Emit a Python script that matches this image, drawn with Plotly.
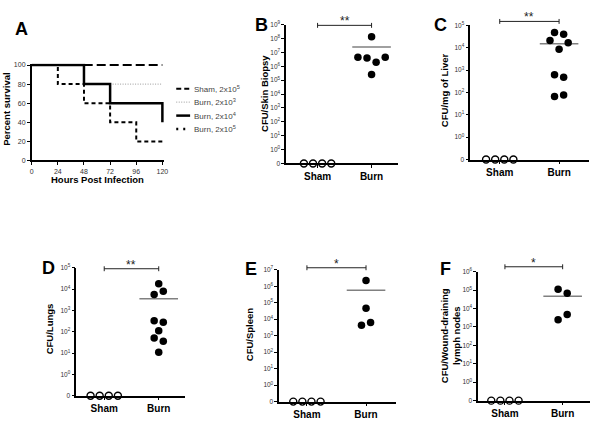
import math
import plotly.graph_objects as go

# ---------------- data ----------------
# Panel A: Kaplan-Meier survival (percent) vs hours post infection
hours_sham = [0, 120]
surv_sham = [100, 100]
hours_b3 = [0, 48, 120]
surv_b3 = [100, 80, 80]
hours_b4 = [0, 48, 72, 120]
surv_b4 = [100, 80, 60, 40]
hours_b5 = [0, 24, 48, 72, 96, 120]
surv_b5 = [100, 80, 60, 40, 20, 20]
survival_names = ["Sham, 2x10<sup>5</sup>", "Burn, 2x10<sup>3</sup>",
                  "Burn, 2x10<sup>4</sup>", "Burn, 2x10<sup>5</sup>"]
hour_ticks = [0, 24, 48, 72, 96, 120]
pct_ticks = [0, 20, 40, 60, 80, 100]

# Panels B-F: CFU counts (0 = none detected)
groups = ["Sham", "Burn"]
skin_sham = [0, 0, 0, 0]
skin_burn = [1.35e8, 4.4e6, 3.9e6, 1.95e6, 4.4e6, 2.6e5]
liver_sham = [0, 0, 0, 0]
liver_burn = [4.8e4, 4.0e4, 2.1e4, 1.66e4, 8.5e3, 620, 480, 65, 76]
lungs_sham = [0, 0, 0, 0]
lungs_burn = [1.78e4, 5.6e3, 7.9e3, 324, 275, 112, 51, 36, 11]
spleen_sham = [0, 0, 0, 0]
spleen_burn = [2.2e6, 4.6e4, 4.3e3, 6.2e3]
lymph_sham = [0, 0, 0, 0]
lymph_burn = [1.1e5, 6.8e4, 2.5e3, 4.8e3]

# ---------------- helpers ----------------
W, H = 601, 443
FONT = "Arial, Liberation Sans, sans-serif"
TXT = "#333333"


def px_x(p):
    return p / W


def px_y(p):
    return 1 - p / H


def to_plot(v):
    return math.log10(v) if v > 0 else -1.0


def swarm(yv, ypx, unit=9.2, T=6.0, r=8.5):
    """Row-based beeswarm (Prism-like). Returns x offsets in pixels."""
    n = len(yv)
    pys = [-v * ypx for v in yv]
    order = sorted(range(n), key=lambda i: pys[i])
    rows = []
    for i in order:
        if rows and pys[i] - pys[rows[-1][0]] < T:
            rows[-1].append(i)
        else:
            rows.append([i])
    offs = [0.0] * n
    placed = []
    for row in rows:
        row = sorted(row)
        k = len(row)
        spacing = 1.0
        while True:
            cand = [(j - (k - 1) / 2) * spacing * unit for j in range(k)]
            ok = all((cx - qx) ** 2 + (pys[i] - qy) ** 2 >= r * r
                     for cx, i in zip(cand, row) for qx, qy in placed)
            if ok or spacing >= 4:
                break
            spacing += 1.0
        for cx, i in zip(cand, row):
            offs[i] = cx
            placed.append((cx, pys[i]))
    return offs


fig = go.Figure()
shapes = []
annots = []

axis_common = dict(showgrid=False, zeroline=False, showline=True, linecolor="black",
                   linewidth=1.5, ticks="outside", ticklen=3, tickwidth=1,
                   tickcolor="black", fixedrange=True)

# ---------------- Panel A ----------------
A_left, A_right, A_top, A_bottom = 30, 162, 62, 159
x_ppu = (A_right - A_left) / (hour_ticks[-1] - hour_ticks[0])
y_ppu = (A_bottom - A_top) / (pct_ticks[-1] - pct_ticks[0])
xr_a = [hour_ticks[0], hour_ticks[-1] + 1.5]
yr_a = [pct_ticks[0], pct_ticks[-1] + 1.5]

fig.update_layout(
    xaxis=dict(axis_common, domain=[px_x(A_left), px_x(A_left + x_ppu * (xr_a[1] - xr_a[0]))],
               range=xr_a, anchor="y", tickvals=hour_ticks,
               tickfont=dict(family=FONT, size=7, color=TXT)),
    yaxis=dict(axis_common, domain=[px_y(A_bottom), px_y(A_bottom - y_ppu * (yr_a[1] - yr_a[0]))],
               range=yr_a, anchor="x", tickvals=pct_ticks,
               tickfont=dict(family=FONT, size=7, color=TXT)),
)

curves = [
    (hours_b3, surv_b3, dict(color="#9a9a9a", width=1, dash="1px,1.5px"), 1),
    (hours_sham, surv_sham, dict(color="black", width=2, dash="9px,4px"), 0),
    (hours_b5, surv_b5, dict(color="black", width=2, dash="4px,3px"), 3),
    (hours_b4, surv_b4, dict(color="black", width=2.5), 2),
]
for hx, sy, ln, idx in curves:
    fig.add_trace(go.Scatter(x=hx, y=sy, mode="lines", line=ln, line_shape="hv",
                             name=survival_names[idx], xaxis="x", yaxis="y",
                             showlegend=False, hoverinfo="skip"))

# manual legend
leg_styles = [
    dict(color="black", width=2, dash="5px,3px"),
    dict(color="#9a9a9a", width=1, dash="1px,1.5px"),
    dict(color="black", width=2.5),
    dict(color="black", width=2.5, dash="2px,5px"),
]
for k, (name, st) in enumerate(zip(survival_names, leg_styles)):
    yy = 86 + k * 13.7
    shapes.append(dict(type="line", xref="paper", yref="paper", x0=px_x(176), x1=px_x(190),
                       y0=px_y(yy), y1=px_y(yy), line=st))
    annots.append(dict(text=name, xref="paper", yref="paper", x=px_x(192), y=px_y(yy),
                       xanchor="left", yanchor="middle", showarrow=False,
                       font=dict(family=FONT, size=8, color="#444444")))

annots.append(dict(text="<b>Hours Post Infection</b>", xref="paper", yref="paper",
                   x=px_x(96), y=px_y(178), showarrow=False, xanchor="center", yanchor="middle",
                   font=dict(family=FONT, size=9.5, color="black")))
annots.append(dict(text="<b>Percent survival</b>", xref="paper", yref="paper",
                   x=px_x(4.5), y=px_y(107), showarrow=False, textangle=-90,
                   xanchor="center", yanchor="middle",
                   font=dict(family=FONT, size=9.5, color="black")))
annots.append(dict(text="<b>A</b>", xref="paper", yref="paper", x=px_x(19.5), y=px_y(25.5),
                   showarrow=False, xanchor="center", yanchor="middle",
                   font=dict(family=FONT, size=18, color="black")))

# ---------------- Panels B-F ----------------
panels = [
    dict(letter="B", n=2, left=287, right=400, top=21, bottom=162, c0=318.75, c1=373.3, ytop=9,
         sham=skin_sham, burn=skin_burn, title="<b>CFU/Skin Biopsy</b>", tx=265, ty=91,
         star="**", by=21.7, lx=262, ly=21),
    dict(letter="C", n=3, left=473, right=593, top=21.7, bottom=158, c0=502.75, c1=562.7, ytop=5,
         sham=liver_sham, burn=liver_burn, title="<b>CFU/mg of Liver</b>", tx=447, ty=88,
         star="**", by=17.7, lx=443, ly=21),
    dict(letter="D", n=4, left=75, right=185, top=268, bottom=398, c0=103.25, c1=158.3, ytop=5,
         sham=lungs_sham, burn=lungs_burn, title="<b>CFU/Lungs</b>", tx=48, ty=330,
         star="**", by=269, lx=47, ly=268),
    dict(letter="E", n=5, left=280, right=398, top=270, bottom=404, c0=308, c1=367.7, ytop=7,
         sham=spleen_sham, burn=spleen_burn, title="<b>CFU/Spleen</b>", tx=250, ty=336,
         star="*", by=268, lx=252, ly=269),
    dict(letter="F", n=6, left=481, right=594, top=272, bottom=403, c0=508, c1=566.3, ytop=6,
         sham=lymph_sham, burn=lymph_burn,
         title="<b>CFU/Wound-draining<br>lymph nodes</b>", tx=453, ty=337,
         star="*", by=267, lx=447.5, ly=269),
]

for p in panels:
    n = p["n"]
    s = p["c1"] - p["c0"]
    xr = [(p["left"] - p["c0"]) / s, (p["right"] - p["c0"]) / s]
    yr = [-1, p["ytop"]]
    ypx = (p["bottom"] - p["top"]) / (yr[1] - yr[0])
    tv = list(range(-1, p["ytop"] + 1))
    tt = ["0"] + [f"10<sup>{k}</sup>" for k in range(0, p["ytop"] + 1)]
    fig.layout[f"xaxis{n}"] = dict(axis_common, domain=[px_x(p["left"]), px_x(p["right"])],
                                   range=xr, anchor=f"y{n}", tickvals=[0, 1],
                                   ticktext=[f"<b>{g}</b>" for g in groups],
                                   tickfont=dict(family=FONT, size=10, color="black"))
    fig.layout[f"yaxis{n}"] = dict(axis_common, domain=[px_y(p["bottom"]), px_y(p["top"])],
                                   range=yr, anchor=f"x{n}", tickvals=tv, ticktext=tt,
                                   tickfont=dict(family=FONT, size=6.5, color=TXT))

    sham_y = [to_plot(v) for v in p["sham"]]
    burn_y = [to_plot(v) for v in p["burn"]]
    sham_off = swarm(sham_y, ypx)
    burn_off = swarm(burn_y, ypx)

    # mean line (arithmetic mean of CFU, shown on log scale)
    mean_burn = to_plot(sum(p["burn"]) / len(p["burn"]))
    w = 19.5 / s
    fig.add_trace(go.Scatter(x=[1 - w, 1 + w], y=[mean_burn, mean_burn], mode="lines",
                             line=dict(color="#808080", width=1.5), xaxis=f"x{n}",
                             yaxis=f"y{n}", showlegend=False, hoverinfo="skip"))
    fig.add_trace(go.Scatter(x=[0 + o / s for o in sham_off], y=sham_y, mode="markers",
                             marker=dict(symbol="circle-open", size=7, color="black",
                                         line=dict(width=1.4, color="black")),
                             cliponaxis=False, xaxis=f"x{n}", yaxis=f"y{n}",
                             showlegend=False, name=groups[0]))
    fig.add_trace(go.Scatter(x=[1 + o / s for o in burn_off], y=burn_y, mode="markers",
                             marker=dict(symbol="circle", size=7.5, color="black"),
                             cliponaxis=False, xaxis=f"x{n}", yaxis=f"y{n}",
                             showlegend=False, name=groups[1]))

    # significance bracket
    x0p, x1p, by = px_x(p["c0"]), px_x(p["c1"]), p["by"]
    bl = dict(color="#222222", width=1)
    shapes.append(dict(type="line", xref="paper", yref="paper", x0=x0p, x1=x1p,
                       y0=px_y(by), y1=px_y(by), line=bl))
    for xx in (x0p, x1p):
        shapes.append(dict(type="line", xref="paper", yref="paper", x0=xx, x1=xx,
                           y0=px_y(by - 2.5), y1=px_y(by + 2.5), line=bl))
    annots.append(dict(text=p["star"], xref="paper", yref="paper", x=(x0p + x1p) / 2,
                       y=px_y(by - 4), showarrow=False, xanchor="center", yanchor="middle",
                       font=dict(family=FONT, size=12, color="#222222")))
    annots.append(dict(text=p["title"], xref="paper", yref="paper", x=px_x(p["tx"]),
                       y=px_y(p["ty"]), showarrow=False, textangle=-90,
                       xanchor="center", yanchor="middle",
                       font=dict(family=FONT, size=9.5, color="black")))
    annots.append(dict(text=f"<b>{p['letter']}</b>", xref="paper", yref="paper",
                       x=px_x(p["lx"]), y=px_y(p["ly"]), showarrow=False,
                       xanchor="center", yanchor="middle",
                       font=dict(family=FONT, size=18, color="black")))

fig.update_layout(width=W, height=H, margin=dict(l=0, r=0, t=0, b=0),
                  paper_bgcolor="white", plot_bgcolor="white", showlegend=False,
                  shapes=shapes, annotations=annots,
                  font=dict(family=FONT, color="black"))

fig.write_html("out.html")
